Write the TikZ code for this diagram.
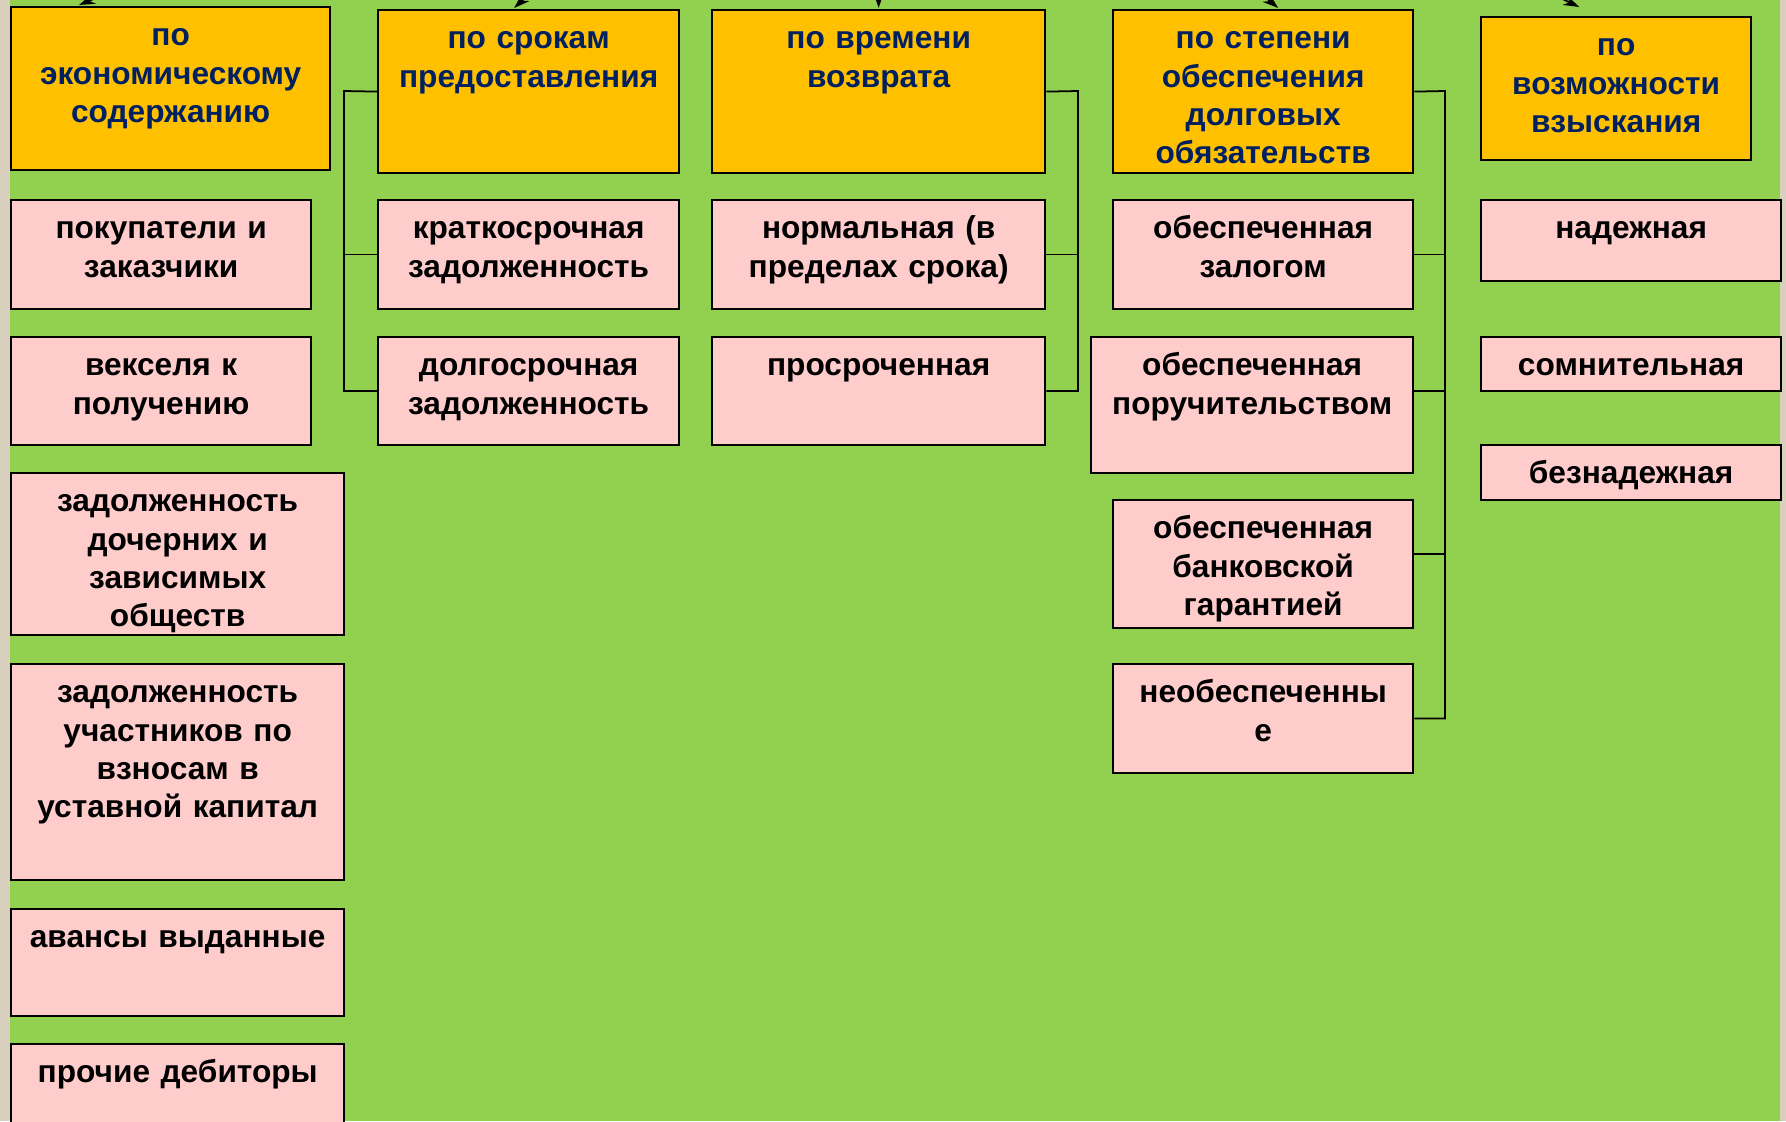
\documentclass[tikz,border=0pt]{standalone}
\usepackage{fontspec}
\setmainfont{Liberation Sans}
\usetikzlibrary{arrows.meta}

\definecolor{bgreen}{HTML}{92D050}
\definecolor{hdrfill}{HTML}{FFC000}
\definecolor{itemfill}{HTML}{FFCCCC}
\definecolor{hdrtext}{HTML}{002060}
\definecolor{beige}{HTML}{D8CFBC}

\tikzset{
  hdr/.style={draw, line width=0.6pt, fill=hdrfill, text=hdrtext,
    font=\bfseries\fontsize{9}{10.9}\selectfont, align=center,
    inner sep=0pt, anchor=north west, text height=11pt},
  item/.style={hdr, fill=itemfill, text=black},
  dims/.style 2 args={text width=#1cm, text depth=#2cm-11pt},
  link/.style={line width=0.5pt},
  feed/.style={line width=0.5pt, -{Stealth[length=4.5pt,width=3pt]}}
}

\begin{document}
\begin{tikzpicture}[x=0.01cm, y=-0.01cm]

	\useasboundingbox (0,0) rectangle (1786,1121);
	\clip (0,0) rectangle (1786,1121);

	% background %
	\fill[bgreen] (0,0) rectangle (1786,1121);
	\fill[beige] (0,0) rectangle (10,1121);
	\fill[beige] (1780,0) rectangle (1786,1121);

	% headers %
	\node[hdr, dims={3.19}{1.63}] (eco) at (10,6) {по\\экономическому\\содержанию};
	\node[hdr, dims={3.01}{1.63}] (term) at (377,9) {по срокам\\предоставления};
	\node[hdr, dims={3.33}{1.63}] (ret) at (711,9) {по времени\\возврата};
	\node[hdr, dims={3.00}{1.63}] (sec) at (1112,9) {по степени\\обеспечения\\долговых\\обязательств};
	\node[hdr, dims={2.70}{1.43}] (coll) at (1480,16) {по\\возможности\\взыскания};

	% arrows from above %
	\coordinate (root) at (878,-330);
	\draw[feed] (root) -- ([xshift=-0.915cm, yshift=0.01cm]eco.north);
	\draw[feed] (root) -- ([xshift=-0.145cm, yshift=0.01cm]term.north);
	\draw[feed] (root) -- ([yshift=0.01cm]ret.north);
	\draw[feed] (root) -- ([xshift=0.15cm, yshift=0.01cm]sec.north);
	\draw[feed] (root) -- ([xshift=-0.37cm, yshift=0.09cm]coll.north);

	% by economic content %
	\node[item, dims={3.00}{1.09}] (buy) at (10,199) {покупатели и\\заказчики};
	\node[item, dims={3.00}{1.08}] (bill) at (10,336) {векселя к\\получению};
	\node[item, dims={3.33}{1.62}] (subs) at (10,472) {задолженность\\дочерних и\\зависимых\\обществ};
	\node[item, dims={3.33}{2.16}] (part) at (10,663) {задолженность\\участников по\\взносам в\\уставной капитал};
	\node[item, dims={3.33}{1.07}] (adv) at (10,908) {авансы выданные};
	\node[item, dims={3.33}{1.10}] (oth) at (10,1043) {прочие дебиторы};

	% by term %
	\node[item, dims={3.01}{1.09}] (short) at (377,199) {краткосрочная\\задолженность};
	\node[item, dims={3.01}{1.08}] (long) at (377,336) {долгосрочная\\задолженность};

	\coordinate (tbus) at (344,91);
	\draw[link] (term.west) -- (tbus) |- (long.west);
	\draw[link] (short.west) -- (short.west -| tbus);

	% by return time %
	\node[item, dims={3.33}{1.09}] (norm) at (711,199) {нормальная (в\\пределах срока)};
	\node[item, dims={3.33}{1.08}] (over) at (711,336) {просроченная};

	\coordinate (rbus) at (1078,91);
	\draw[link] (ret.east) -- (rbus) |- (over.east);
	\draw[link] (norm.east) -- (norm.east -| rbus);

	% by security %
	\node[item, dims={3.00}{1.09}] (pledge) at (1112,199) {обеспеченная\\залогом};
	\node[item, dims={3.22}{1.36}] (surety) at (1090,336) {обеспеченная\\поручительством};
	\node[item, dims={3.00}{1.28}] (bank) at (1112,499) {обеспеченная\\банковской\\гарантией};
	\node[item, dims={3.00}{1.09}] (unsec) at (1112,663) {необеспеченны\\е};

	\coordinate (sbus) at (1445,91);
	\draw[link] (sec.east) -- (sbus) |- (unsec.east);
	\draw[link] (pledge.east) -- (pledge.east -| sbus);
	\draw[link] ([yshift=0.14cm]surety.east) -- ([yshift=0.14cm]surety.east -| sbus);
	\draw[link] ([yshift=0.1cm]bank.east) -- ([yshift=0.1cm]bank.east -| sbus);

	% by collectability %
	\node[item, dims={3.00}{0.81}] (rel) at (1480,199) {надежная};
	\node[item, dims={3.00}{0.54}] (doubt) at (1480,336) {сомнительная};
	\node[item, dims={3.00}{0.55}] (bad) at (1480,444) {безнадежная};

\end{tikzpicture}
\end{document}
